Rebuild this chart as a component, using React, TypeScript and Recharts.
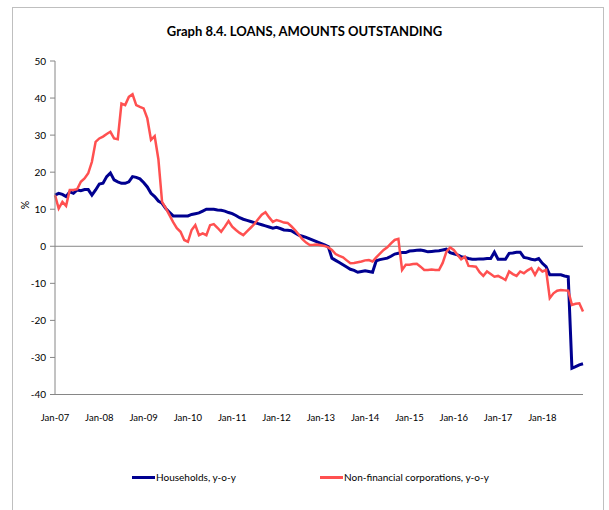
import { CartesianGrid, Legend, Line, LineChart, ReferenceLine, XAxis, YAxis } from "recharts";

// monthly, Jan-07 .. Dec-18
const households = [
	13.8, 14.3, 14.0, 13.4, 14.7, 14.3, 15.2, 15.0, 15.3, 15.3, 13.8, 15.2,
	16.8, 17.0, 18.8, 19.8, 17.9, 17.4, 17.0, 17.0, 17.4, 18.8, 18.6, 18.2,
	17.2, 16.0, 14.3, 13.4, 12.2, 11.6, 10.2, 9.2, 8.2, 8.2, 8.2, 8.2,
	8.2, 8.6, 8.8, 9.0, 9.5, 10.0, 10.0, 10.0, 9.8, 9.7, 9.5, 9.1,
	8.8, 8.3, 7.7, 7.3, 7.0, 6.7, 6.4, 6.1, 5.8, 5.5, 5.2, 4.9,
	5.1, 4.8, 4.4, 4.3, 4.2, 3.6, 3.0, 2.7, 2.4, 2.0, 1.6, 1.2,
	0.8, 0.35, -0.1, -3.2, -3.8, -4.4, -5.0, -5.6, -6.2, -6.5, -7.0, -6.8,
	-6.6, -6.8, -7.0, -3.9, -3.6, -3.4, -3.2, -2.7, -2.1, -1.9, -1.7, -1.7,
	-1.3, -1.2, -1.1, -1.0, -1.2, -1.5, -1.4, -1.3, -1.2, -1.0, -0.8, -1.7,
	-2.0, -2.3, -2.8, -3.0, -3.3, -3.5, -3.5, -3.4, -3.4, -3.3, -3.3, -1.6,
	-3.5, -3.5, -3.5, -1.9, -1.8, -1.6, -1.6, -3.0, -3.2, -3.5, -3.7, -3.3,
	-4.6, -5.5, -7.7, -7.7, -7.7, -7.7, -8.0, -8.2, -32.9, -32.5, -32.0, -31.7,
];

const corporations = [
	13.8, 10.2, 12.0, 10.9, 15.2, 15.2, 15.4, 17.4, 18.3, 19.7, 22.8, 28.2,
	29.1, 29.6, 30.3, 30.9, 29.1, 28.9, 38.5, 38.1, 40.3, 41.0, 38.1, 37.6,
	37.2, 34.5, 28.7, 29.7, 23.5, 12.0, 10.3, 8.4, 6.5, 4.9, 3.9, 1.7,
	1.2, 4.4, 5.7, 3.0, 3.5, 3.0, 5.7, 6.0, 5.0, 3.9, 5.3, 6.8,
	5.3, 4.4, 3.6, 3.0, 4.0, 5.0, 6.0, 7.3, 8.5, 9.2, 7.8, 6.6,
	7.1, 6.8, 6.4, 6.3, 5.4, 4.4, 3.2, 1.9, 1.0, 0.35, 0.4, 0.5,
	0.3, 0.1, -0.3, -1.0, -2.1, -2.6, -3.0, -3.8, -4.6, -4.5, -4.3, -4.1,
	-3.8, -3.7, -4.1, -3.0, -2.0, -1.0, -0.3, 0.8, 1.7, 2.0, -6.4, -5.0,
	-5.0, -4.8, -4.7, -5.5, -6.4, -6.4, -6.3, -6.4, -6.4, -4.5, -1.5, -0.3,
	-1.0, -2.3, -3.5, -2.8, -5.3, -5.4, -5.5, -7.0, -8.0, -6.8, -7.5, -8.2,
	-8.0, -8.5, -9.1, -6.8, -7.5, -8.0, -6.8, -7.3, -6.5, -5.9, -7.7, -5.9,
	-6.8, -6.4, -14.0, -12.7, -12.0, -11.8, -11.9, -12.0, -15.8, -15.5, -15.4, -17.6,
];

const yearLabels = ["Jan-07", "Jan-08", "Jan-09", "Jan-10", "Jan-11", "Jan-12", "Jan-13", "Jan-14", "Jan-15", "Jan-16", "Jan-17", "Jan-18"];
const yTicks = [-40, -30, -20, -10, 0, 10, 20, 30, 40, 50];

const data = households.map((h, i) => ({ i, households: h, corporations: corporations[i] }));
const xTicks = yearLabels.map((_, k) => k * 12);

const FONT = "Lato, sans-serif";
const AXIS = "#868686";
const legendLeft = [132, 320];

function LegendBox({ payload }: any) {
	return (
		<div style={{ position: "relative", height: 20, fontFamily: FONT, fontSize: 10 }}>
			{(payload || []).map((p: any, k: number) => (
				<div key={p.value} style={{ position: "absolute", top: 0, height: 20, left: legendLeft[k], display: "flex", alignItems: "center" }}>
					<span style={{ display: "inline-block", width: 23, height: 3, background: p.color }} />
					<span style={{ marginLeft: 1 }}>{p.value}</span>
				</div>
			))}
		</div>
	);
}

function PercentLabel() {
	return (
		<text x={29} y={205} transform="rotate(-90 29 205)" textAnchor="middle" fontFamily={FONT} fontSize={10.5} fill="#000">
			%
		</text>
	);
}

export default function App() {
	return (
		<div style={{ position: "absolute", left: 0, top: 0, width: 609, height: 510, background: "#fff", overflow: "hidden" }}>
			<div style={{ position: "absolute", left: 12, top: 7, width: 590, height: 520, border: "1px solid #bfbfbf" }} />
			<div
				style={{
					position: "absolute",
					top: 23,
					left: 0,
					width: 609,
					textAlign: "center",
					fontFamily: FONT,
					fontWeight: "bold",
					fontSize: 13,
				}}
			>
				Graph 8.4. LOANS, AMOUNTS OUTSTANDING
			</div>
			<LineChart
				width={609}
				height={510}
				data={data}
				margin={{ top: 61, right: 26, bottom: 55.5, left: 10 }}
				style={{ position: "absolute", left: 0, top: 0 }}
			>
				<CartesianGrid horizontal={false} vertical={false} />
				<XAxis
					dataKey="i"
					type="number"
					domain={[0, 143]}
					ticks={xTicks}
					tickFormatter={(v) => yearLabels[v / 12]}
					interval={0}
					tickLine={false}
					tickMargin={14}
					height={40}
					stroke={AXIS}
					tick={{ fill: "#000", fontSize: 9.5, fontFamily: FONT }}
				/>
				<XAxis xAxisId="top" orientation="top" dataKey="i" type="number" domain={[0, 143]} tick={false} tickLine={false} height={0} stroke={AXIS} />
				<YAxis
					domain={[-40, 50]}
					ticks={yTicks}
					interval={0}
					width={45}
					tickSize={5}
					tickMargin={4}
					stroke={AXIS}
					tick={{ fill: "#000", fontSize: 10, fontFamily: FONT }}
					label={<PercentLabel />}
				/>
				<YAxis yAxisId="right" orientation="right" domain={[-40, 50]} tick={false} tickLine={false} width={0} stroke={AXIS} />
				<ReferenceLine y={0} stroke={AXIS} strokeWidth={1} />
				<Legend
					content={<LegendBox />}
					verticalAlign="bottom"
					wrapperStyle={{ top: 467, bottom: "auto", left: 0, width: 609 }}
				/>
				<Line
					type="linear"
					dataKey="households"
					name="Households, y-o-y"
					stroke="#000090"
					strokeWidth={3}
					dot={false}
					isAnimationActive={false}
				/>
				<Line
					type="linear"
					dataKey="corporations"
					name="Non-financial corporations, y-o-y"
					stroke="#ff5050"
					strokeWidth={2.5}
					dot={false}
					isAnimationActive={false}
				/>
			</LineChart>
		</div>
	);
}
